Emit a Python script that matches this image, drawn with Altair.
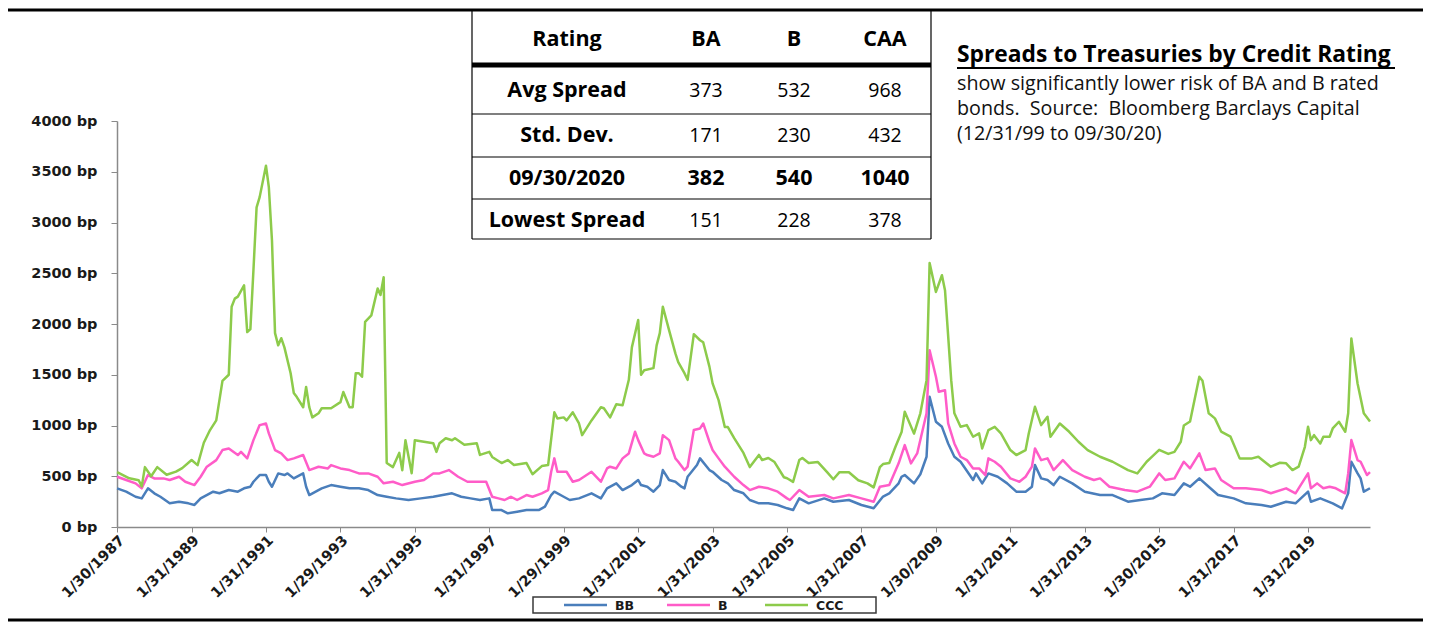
import altair as alt
import pandas as pd

# ---------------- series data (month, spread in bp) ----------------
ccc_months = ["1987-01","1987-05","1987-08","1987-09","1987-10","1987-12","1988-02","1988-05","1988-08","1988-10",
"1989-01","1989-03","1989-05","1989-07","1989-09","1989-11","1990-01","1990-02","1990-03","1990-04","1990-06","1990-07",
"1990-08","1990-09","1990-10","1990-11","1991-01","1991-02","1991-03","1991-04","1991-05","1991-06","1991-07","1991-09",
"1991-10","1991-11","1992-01","1992-02","1992-03","1992-04","1992-06","1992-07","1992-10","1993-01","1993-02","1993-04",
"1993-05","1993-06","1993-07","1993-08","1993-09","1993-11","1994-01","1994-02","1994-03","1994-04","1994-06","1994-08",
"1994-09","1994-10","1994-12","1995-01","1995-04","1995-07","1995-08","1995-09","1995-11","1996-01","1996-02","1996-05",
"1996-09","1996-10","1997-01","1997-02","1997-05","1997-07","1997-09","1998-01","1998-03","1998-06","1998-08","1998-10",
"1998-11","1999-01","1999-02","1999-04","1999-06","1999-07","1999-10","2000-01","2000-02","2000-04","2000-06","2000-08",
"2000-10","2000-11","2001-01","2001-02","2001-03","2001-06","2001-07","2001-08","2001-09","2001-11","2002-01","2002-02",
"2002-04","2002-05","2002-07","2002-09","2002-10","2002-12","2003-01","2003-03","2003-05","2003-06","2003-08","2003-11",
"2004-01","2004-04","2004-05","2004-07","2004-09","2004-12","2005-01","2005-03","2005-05","2005-06","2005-08","2005-11",
"2006-02","2006-04","2006-06","2006-09","2006-12","2007-03","2007-05","2007-07","2007-08","2007-10","2007-12","2008-02",
"2008-03","2008-06","2008-08","2008-10","2008-11","2009-01","2009-03","2009-04","2009-06","2009-07","2009-09","2009-11",
"2010-01","2010-03","2010-04","2010-06","2010-08","2010-10","2011-01","2011-03","2011-06","2011-07","2011-09","2011-11",
"2012-01","2012-02","2012-05","2012-08","2012-11","2013-02","2013-06","2013-10","2014-03","2014-06","2014-09","2014-11",
"2015-01","2015-04","2015-06","2015-08","2015-09","2015-11","2016-02","2016-03","2016-05","2016-07","2016-09","2016-12",
"2017-03","2017-07","2017-09","2017-11","2018-01","2018-04","2018-06","2018-08","2018-10","2018-12","2019-01","2019-02",
"2019-03","2019-05","2019-06","2019-08","2019-09","2019-11","2020-01","2020-02","2020-03","2020-05","2020-07","2020-09"]
ccc_values = [540,480,460,400,590,500,590,515,545,580,
660,610,830,955,1050,1440,1500,2170,2250,2270,2380,1920,
1950,2530,3150,3250,3560,3350,2820,1910,1790,1860,1770,1515,
1320,1280,1180,1380,1180,1080,1120,1170,1170,1230,1330,1180,
1180,1515,1515,1480,2020,2085,2350,2285,2460,630,590,730,
560,855,530,855,840,825,740,825,875,855,875,810,
825,710,740,690,630,660,610,630,520,600,610,1130,
1070,1080,1050,1130,1020,905,1050,1180,1170,1080,1210,1200,
1450,1770,2040,1500,1545,1565,1790,1910,2170,1940,1710,1625,
1515,1450,1900,1840,1820,1580,1415,1250,985,985,875,730,
590,710,660,680,640,490,480,445,660,680,630,640,
540,470,540,540,460,430,390,590,620,630,790,935,
1135,920,1120,1447,2600,2316,2480,2333,1447,1120,987,1004,
889,922,774,955,987,922,758,709,758,922,1184,1004,
1086,889,1020,938,840,758,692,643,561,528,643,700,
760,720,740,840,1000,1040,1480,1440,1120,1070,940,890,
676,676,692,643,594,633,627,561,594,790,987,856,
905,823,889,889,971,1037,938,1120,1857,1414,1120,1040]

b_months = ["1987-01","1987-04","1987-07","1987-09","1987-11","1988-01","1988-04","1988-06","1988-09","1988-11",
"1989-02","1989-04","1989-06","1989-09","1989-11","1990-01","1990-04","1990-05","1990-07","1990-09","1990-11","1991-01",
"1991-02","1991-04","1991-06","1991-08","1991-10","1992-01","1992-03","1992-06","1992-09","1992-10","1993-01","1993-04",
"1993-07","1993-10","1994-01","1994-03","1994-06","1994-09","1995-01","1995-04","1995-07","1995-09","1995-12","1996-03",
"1996-06","1996-09","1996-12","1997-02","1997-04","1997-06","1997-08","1997-10","1998-01","1998-03","1998-06","1998-08",
"1998-09","1998-10","1998-11","1999-02","1999-04","1999-06","1999-10","2000-01","2000-03","2000-04","2000-06","2000-08",
"2000-10","2000-12","2001-01","2001-03","2001-04","2001-06","2001-08","2001-09","2001-11","2002-01","2002-02","2002-04",
"2002-05","2002-07","2002-09","2002-10","2002-12","2003-01","2003-03","2003-05","2003-08","2003-11","2004-01","2004-04",
"2004-07","2004-10","2005-01","2005-02","2005-05","2005-08","2006-01","2006-04","2006-09","2007-01","2007-05","2007-07",
"2007-10","2008-01","2008-03","2008-05","2008-07","2008-10","2008-11","2009-01","2009-02","2009-04","2009-05","2009-07",
"2009-09","2009-11","2010-01","2010-03","2010-05","2010-06","2010-08","2010-10","2011-01","2011-04","2011-06","2011-08",
"2011-09","2011-11","2012-01","2012-03","2012-06","2012-09","2013-01","2013-04","2013-06","2013-09","2014-02","2014-06",
"2014-10","2015-01","2015-03","2015-06","2015-09","2015-11","2016-02","2016-04","2016-07","2016-09","2017-01","2017-05",
"2017-10","2018-01","2018-06","2018-09","2019-01","2019-02","2019-04","2019-06","2019-08","2019-10","2020-01","2020-02",
"2020-03","2020-05","2020-06","2020-08","2020-09"]
b_values = [495,463,430,381,512,479,479,463,495,446,
413,495,594,659,758,774,709,741,676,856,1004,1020,
922,758,725,659,676,709,561,594,577,610,577,561,
528,528,495,430,446,413,446,463,528,528,561,495,
446,446,446,298,282,266,298,266,315,298,332,364,
544,676,544,544,446,463,544,446,577,594,577,676,
725,938,856,725,709,692,725,905,856,676,643,561,
594,955,971,1020,840,758,676,594,495,413,364,397,
381,348,282,266,364,298,315,282,315,282,249,397,
413,627,807,627,725,1120,1742,1480,1332,1348,1020,823,
692,659,577,577,512,676,643,594,479,446,495,594,
774,659,676,561,659,561,495,463,479,397,364,348,
397,528,463,479,643,577,725,561,577,463,381,381,
364,332,381,332,528,381,430,381,397,381,332,528,
856,659,643,512,540]

bb_months = ["1987-01","1987-04","1987-07","1987-09","1987-11","1988-01","1988-03","1988-06","1988-09","1988-12",
"1989-02","1989-04","1989-08","1989-10","1990-01","1990-04","1990-06","1990-08","1990-09","1990-11","1991-01","1991-02",
"1991-03","1991-05","1991-07","1991-08","1991-10","1992-01","1992-02","1992-03","1992-07","1992-10","1993-01","1993-04",
"1993-07","1993-10","1994-01","1994-04","1994-07","1994-11","1995-03","1995-07","1995-10","1996-01","1996-04","1996-07",
"1996-10","1997-01","1997-02","1997-05","1997-07","1997-10","1998-01","1998-05","1998-07","1998-09","1998-10","1999-01",
"1999-03","1999-06","1999-10","2000-01","2000-03","2000-06","2000-08","2000-11","2001-01","2001-02","2001-04","2001-06",
"2001-08","2001-09","2001-11","2002-01","2002-03","2002-04","2002-05","2002-08","2002-09","2002-12","2003-01","2003-04",
"2003-06","2003-08","2003-11","2004-01","2004-04","2004-07","2004-10","2005-01","2005-03","2005-05","2005-08","2006-01",
"2006-04","2006-09","2007-01","2007-05","2007-08","2007-10","2008-01","2008-02","2008-03","2008-06","2008-08","2008-10",
"2008-11","2009-01","2009-03","2009-05","2009-07","2009-09","2010-01","2010-02","2010-04","2010-06","2010-09","2010-12",
"2011-03","2011-06","2011-08","2011-09","2011-11","2012-01","2012-03","2012-05","2012-09","2013-01","2013-06","2013-10",
"2014-03","2014-07","2014-11","2015-02","2015-06","2015-09","2015-11","2016-02","2016-05","2016-08","2017-01","2017-05",
"2017-10","2018-01","2018-06","2018-09","2019-01","2019-02","2019-05","2019-09","2019-12","2020-02","2020-03","2020-05",
"2020-06","2020-07","2020-09"]
bb_values = [381,348,298,282,381,332,298,233,249,233,
217,282,348,332,364,348,381,397,446,512,512,446,
397,528,512,528,479,528,397,315,381,413,397,381,
381,364,315,298,282,266,282,298,315,332,298,282,
266,282,167,167,135,151,167,167,200,315,348,298,
266,282,332,282,381,430,364,413,463,413,397,348,
413,561,463,446,397,381,495,610,676,561,544,463,
430,364,332,266,233,233,217,184,167,282,233,282,
249,266,217,184,300,332,430,495,512,430,520,692,
1283,1037,987,823,692,643,463,528,430,528,495,430,
348,348,397,610,479,463,413,495,430,348,315,315,
249,266,282,332,315,430,397,479,397,315,282,233,
217,200,249,233,348,249,282,233,184,332,643,528,
479,348,382]

series_names = ["BB", "B", "CCC"]
series_colors = ["#4A7EBB", "#FF5CC8", "#8DCB4B"]

x_tick_dates = ["1987-01-30","1989-01-31","1991-01-31","1993-01-29","1995-01-31","1997-01-31","1999-01-29",
"2001-01-31","2003-01-31","2005-01-31","2007-01-31","2009-01-30","2011-01-31","2013-01-31","2015-01-30",
"2017-01-31","2019-01-31"]
y_ticks = [0, 500, 1000, 1500, 2000, 2500, 3000, 3500, 4000]

# ---------------- table data ----------------
table_header = ["Rating", "BA", "B", "CAA"]
table_rows = ["Avg Spread", "Std. Dev.", "09/30/2020", "Lowest Spread"]
table_ba = ["373", "171", "382", "151"]
table_b = ["532", "230", "540", "228"]
table_caa = ["968", "432", "1040", "378"]

title_text = "Spreads to Treasuries by Credit Rating"
body_lines = ["show significantly lower risk of BA and B rated",
              "bonds.\u00a0 Source:\u00a0 Bloomberg Barclays Capital",
              "(12/31/99 to 09/30/20)"]

# ---------------- build frames ----------------
def month_end(m):
    return (pd.Timestamp(m + "-01") + pd.offsets.MonthEnd(0)).strftime("%Y-%m-%d")

frames = []
for name, months, vals in [("BB", bb_months, bb_values), ("B", b_months, b_values), ("CCC", ccc_months, ccc_values)]:
    frames.append(pd.DataFrame({"date": [month_end(m) for m in months], "spread": vals, "series": name}))
lines_df = pd.concat(frames, ignore_index=True)

def dt(s):
    y, m, d = [int(p) for p in s.split("-")]
    return alt.DateTime(year=y, month=m, date=d, utc=True)

# layout (pixels relative to plot area origin)
PW, PH = 1253, 406
col_x = [450, 589, 677, 768]
row_y = [-81, -30, 15, 58, 100]
legend_sym_x = [447, 550, 648]
legend_sym_len = 43
legend_lab_gap = 8
legend_y = 484

cells = []
for j, h in enumerate(table_header):
    cells.append({"t": h, "px": col_x[j], "py": row_y[0], "bold": True})
for i, r in enumerate(table_rows):
    vals = [r, table_ba[i], table_b[i], table_caa[i]]
    for j, v in enumerate(vals):
        cells.append({"t": v, "px": col_x[j], "py": row_y[i + 1], "bold": (j == 0 or i == 2)})
cells_df = pd.DataFrame(cells)

legend_df = pd.DataFrame({"series": series_names,
                          "sx": legend_sym_x,
                          "sx2": [v + legend_sym_len for v in legend_sym_x],
                          "lx": [v + legend_sym_len + legend_lab_gap for v in legend_sym_x]})

one = pd.DataFrame({"k": [0]})
color_scale = alt.Scale(domain=series_names, range=series_colors)

lines = alt.Chart(lines_df).mark_line(strokeWidth=2.5, strokeJoin="round").encode(
    x=alt.X("date:T",
            scale=alt.Scale(domain=[dt("1987-01-30"), dt("2020-09-30")]),
            axis=alt.Axis(values=[dt(d) for d in x_tick_dates],
                          labelExpr="utcFormat(datum.value, '%-m/%-d/%Y')",
                          labelAngle=-45, labelAlign="right", labelBaseline="top",
                          labelFont="DejaVu Sans", labelFontWeight="bold", labelFontSize=14.5,
                          labelColor="#1a1a1a", labelPadding=1, labelOverlap=False, labelBound=False,
                          labelFlush=False,
                          tickSize=5, tickColor="#8a8a8a", domainColor="#8a8a8a", domainWidth=1.5,
                          grid=False, title=None)),
    y=alt.Y("spread:Q",
            scale=alt.Scale(domain=[0, 4000], nice=False),
            axis=alt.Axis(values=y_ticks, labelExpr="datum.value + ' bp'",
                          labelFont="DejaVu Sans", labelFontWeight="bold", labelFontSize=14.5,
                          labelColor="#1a1a1a", labelPadding=14, tickSize=6, tickColor="#8a8a8a",
                          domainColor="#8a8a8a", domainWidth=1.5, grid=False, title=None)),
    color=alt.Color("series:N", scale=color_scale, legend=None),
    detail="series:N",
)

legend_lines = alt.Chart(legend_df).mark_rule(strokeWidth=2.5).encode(
    x=alt.X("sx:Q", scale=None, axis=None), x2="sx2:Q", y=alt.value(legend_y),
    color=alt.Color("series:N", scale=color_scale, legend=None))
legend_text = alt.Chart(legend_df).mark_text(font="DejaVu Sans", fontWeight="bold", fontSize=12.5,
                                             color="#1a1a1a", align="left", baseline="middle").encode(
    x=alt.X("lx:Q", scale=None, axis=None), y=alt.value(legend_y + 1), text="series:N")

def rule(x1, x2, y1, y2, w, color="black"):
    return alt.Chart(one).mark_rule(strokeWidth=w, color=color).encode(
        x=alt.value(x1), x2=alt.value(x2), y=alt.value(y1), y2=alt.value(y2))

decor = [
    rule(-109, 1306, -111, -111, 3),          # top black rule
    rule(-109, 1306, 499, 499, 3),            # bottom black rule
    rule(355, 355, -111, 118, 1.2),           # table left border
    rule(814, 814, -111, 118, 1.2),           # table right border
    rule(355, 814, -56, -56, 5),              # thick header rule
    rule(355, 814, -7, -7, 1.2),
    rule(355, 814, 36, 36, 1.2),
    rule(355, 814, 78, 78, 1.2),
    rule(355, 814, 118, 118, 1.2),
    rule(840, 1278, -53, -53, 2),             # title underline
]

legend_box = alt.Chart(one).mark_rect(fill="white", stroke="#3a3a3a", strokeWidth=1.5).encode(
    x=alt.value(416), x2=alt.value(759), y=alt.value(476), y2=alt.value(492))

table_bold = alt.Chart(cells_df).transform_filter("datum.bold").mark_text(
    font="Open Sans", fontSize=21.5, fontWeight="bold", color="#000", baseline="middle", align="center").encode(
    x=alt.X("px:Q", scale=None, axis=None), y=alt.Y("py:Q", scale=None, axis=None), text="t:N")
table_reg = alt.Chart(cells_df).transform_filter("!datum.bold").mark_text(
    font="Open Sans", fontSize=19.5, fontWeight="normal", color="#000", baseline="middle", align="center").encode(
    x=alt.X("px:Q", scale=None, axis=None), y=alt.Y("py:Q", scale=None, axis=None), text="t:N")

title_mark = alt.Chart(one).mark_text(font="Open Sans", fontSize=22.8, fontWeight="bold", color="#000",
                                      align="left", baseline="middle", text=title_text).encode(
    x=alt.value(840), y=alt.value(-66))
body_df = pd.DataFrame({"t": body_lines, "py": [-37, -12, 13]})
body_mark = alt.Chart(body_df).mark_text(font="Open Sans", fontSize=19.7, color="#111", align="left",
                                         baseline="middle").encode(
    x=alt.value(840), y=alt.Y("py:Q", scale=None, axis=None), text="t:N")

chart = alt.layer(legend_box, lines, legend_lines, legend_text, *decor, table_bold, table_reg,
                  title_mark, body_mark).resolve_scale(
    x="independent", y="independent"
).properties(
    width=PW, height=PH,
    autosize=alt.AutoSizeParams(type="none"),
    padding={"left": 109, "top": 113, "right": 53, "bottom": 95},
    background="white",
).configure_view(stroke=None)

chart.save("out.html", embed_options={"renderer": "svg", "actions": False})
